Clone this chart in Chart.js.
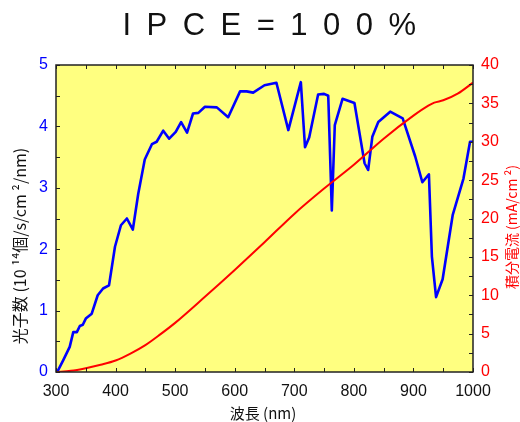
<!DOCTYPE html>
<html><head><meta charset="utf-8">
<script src="https://cdn.jsdelivr.net/npm/chart.js@4/dist/chart.umd.min.js"></script>
<style>
html,body{margin:0;padding:0;background:#fff;}
#wrap{position:relative;width:520px;height:422px;overflow:hidden;}
canvas{position:absolute;left:0;top:0;}
#title{position:absolute;left:17px;top:9px;width:520px;text-align:center;font-family:"Liberation Sans",Arial,sans-serif;font-size:31px;line-height:31px;letter-spacing:15.5px;color:#111;white-space:nowrap;}
</style></head><body>
<div id="wrap"><canvas id="c" width="520" height="422"></canvas><div id="title">IPCE=100%</div></div>
<script>
// ---- data ----
const photonWavelengths = [302,312,323,329,335,340,345,350,360,370,379,389,399,409,419,429,438,449,461,469,480,490,501,510,520,530,539,550,570,589,609,620,631,650,670,690,711,718,725,740,750,757,763,768,781,801,818,824,831,841,861,882,903,915,926,931,938,949,966,984,995,1000];
const photonFlux = [0,0.19,0.41,0.65,0.65,0.75,0.77,0.87,0.95,1.25,1.36,1.41,2.04,2.39,2.50,2.32,2.90,3.46,3.71,3.75,3.93,3.80,3.91,4.07,3.90,4.21,4.22,4.32,4.31,4.15,4.57,4.57,4.55,4.67,4.71,3.94,4.72,3.66,3.82,4.52,4.53,4.50,2.63,4.02,4.45,4.38,3.40,3.29,3.83,4.07,4.24,4.13,3.51,3.09,3.22,1.88,1.22,1.51,2.56,3.15,3.75,3.75];
const currentWavelengths = [300,325,350,375,400,425,450,475,500,550,600,650,700,750,800,850,900,925,935,950,975,1000];
const integratedCurrent = [0,0.15,0.5,0.95,1.5,2.4,3.5,4.9,6.4,9.8,13.3,16.9,20.6,23.9,27.0,30.4,33.4,34.7,35.1,35.4,36.3,37.7];
const xTickLabels = [300,400,500,600,700,800,900,1000];
const leftTickLabels = [0,1,2,3,4,5];
const rightTickLabels = [0,5,10,15,20,25,30,35,40];

const titleText = 'IPCE=100%';
const xTitle = '波長 (nm)';
const leftTitle = '光子数 (10 ¹⁴個/s/cm ²/nm)';
const rightTitle = '積分電流 (mA/cm ²)';

const BLUE = '#0000ff', RED = '#ff0000';
const tickFont = {family:'"Liberation Sans", Arial, sans-serif', size:16};
const cjkFont = '"Noto Sans CJK JP", "Liberation Sans", sans-serif';

const decor = {
  id:'decor',
  beforeDraw(chart){
    const {ctx, chartArea:a} = chart;
    ctx.save();
    ctx.fillStyle = '#FFFF80';
    ctx.fillRect(a.left, a.top, a.right-a.left, a.bottom-a.top);
    ctx.restore();
  },
  afterDatasetsDraw(chart){
    const {ctx, chartArea:a, scales} = chart;
    ctx.save();
    ctx.strokeStyle = '#222';
    ctx.lineWidth = 1;
    const L = 4;
    ctx.beginPath();
    for (let v = 300; v <= 1000; v += 50) {
      const px = Math.round(scales.x.getPixelForValue(v)) + 0.5;
      ctx.moveTo(px, a.bottom); ctx.lineTo(px, a.bottom - L);
      ctx.moveTo(px, a.top); ctx.lineTo(px, a.top + L);
    }
    for (let v = 0; v <= 5; v += 0.5) {
      const py = Math.round(scales.y.getPixelForValue(v)) + 0.5;
      ctx.moveTo(a.left, py); ctx.lineTo(a.left + L, py);
    }
    for (let v = 0; v <= 40; v += 2.5) {
      const py = Math.round(scales.y1.getPixelForValue(v)) + 0.5;
      ctx.moveTo(a.right, py); ctx.lineTo(a.right - L, py);
    }
    ctx.stroke();
    ctx.lineWidth = 1.5;
    ctx.strokeStyle = '#222';
    ctx.strokeRect(a.left, a.top, a.right-a.left, a.bottom-a.top);
    ctx.restore();
  },
  afterDraw(chart){
    const {ctx} = chart;
    ctx.save();
    ctx.textAlign = 'center';
    ctx.textBaseline = 'middle';
    ctx.font = '15px ' + cjkFont;
    ctx.fillStyle = '#111';
    ctx.fillText(xTitle, 263, 413);
    ctx.save();
    ctx.font = '16px ' + cjkFont;
    ctx.translate(20, 246);
    ctx.rotate(-Math.PI/2);
    ctx.fillText(leftTitle, 0, 0);
    ctx.restore();
    ctx.save();
    ctx.font = '14px ' + cjkFont;
    ctx.fillStyle = RED;
    ctx.translate(512, 227);
    ctx.rotate(-Math.PI/2);
    ctx.fillText(rightTitle, 0, 0);
    ctx.restore();
    ctx.restore();
  }
};

const plain = v => String(v);

new Chart(document.getElementById('c'), {
  type:'line',
  data:{
    datasets:[
      {label:'光子数', data:photonWavelengths.map((x,i)=>({x, y:photonFlux[i]})), borderColor:BLUE, borderWidth:2.6, pointRadius:0, tension:0, yAxisID:'y', order:1, borderJoinStyle:'round'},
      {label:'積分電流', data:currentWavelengths.map((x,i)=>({x, y:integratedCurrent[i]})), borderColor:RED, borderWidth:2, pointRadius:0, tension:0.4, cubicInterpolationMode:'monotone', yAxisID:'y1', order:0}
    ]
  },
  options:{
    responsive:false, animation:false, devicePixelRatio:1,
    layout:{padding:{top:65, left:0, right:0, bottom:0}},
    plugins:{legend:{display:false}, tooltip:{enabled:false}, title:{display:false}},
    scales:{
      x:{type:'linear', min:300, max:1000, afterFit(s){s.height=50;},
        afterBuildTicks(s){s.ticks = xTickLabels.map(v=>({value:v}));},
        grid:{display:false, drawTicks:false}, border:{display:false},
        ticks:{color:'#111', font:tickFont, padding:10, maxRotation:0, callback:plain}},
      y:{type:'linear', position:'left', min:0, max:5, afterFit(s){s.width=56;},
        afterBuildTicks(s){s.ticks = leftTickLabels.map(v=>({value:v}));},
        grid:{display:false, drawTicks:false}, border:{display:false},
        ticks:{color:BLUE, font:tickFont, padding:8, callback:plain}},
      y1:{type:'linear', position:'right', min:0, max:40, afterFit(s){s.width=47;},
        afterBuildTicks(s){s.ticks = rightTickLabels.map(v=>({value:v}));},
        grid:{display:false, drawTicks:false}, border:{display:false},
        ticks:{color:RED, font:tickFont, padding:8, callback:plain}}
    }
  },
  plugins:[decor]
});
</script>
</body></html>
